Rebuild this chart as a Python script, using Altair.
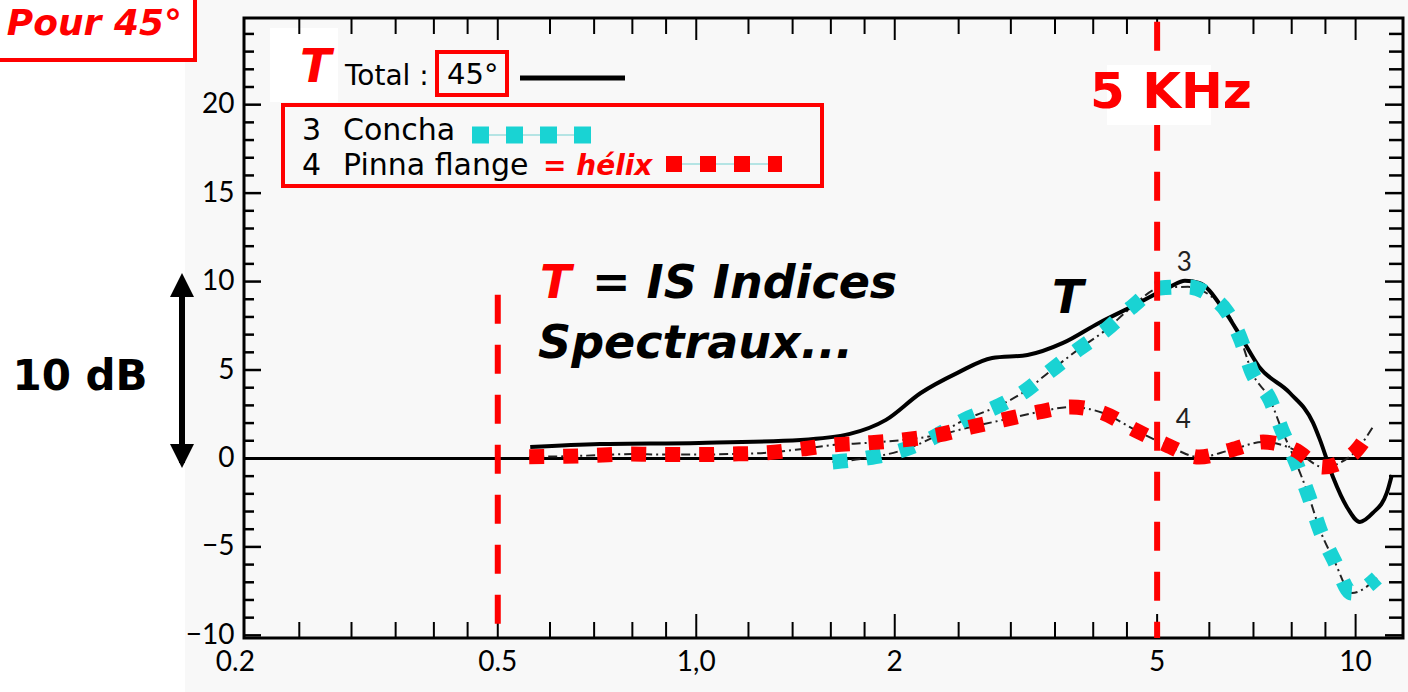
import altair as alt
import pandas as pd

# ---------------- data ----------------
# Total (T), 45 degrees
t_freq = [0.56, 0.714, 1.01, 1.44, 1.71, 1.94, 2.19, 2.49, 2.81, 3.18, 3.60, 4.08, 4.63,
          5.23, 5.51, 5.79, 6.31, 6.70, 7.14, 7.95, 8.62, 8.83, 9.24, 9.70, 10.15, 10.62,
          11.15, 11.35]
t_db = [0.65, 0.82, 0.88, 1.05, 1.39, 2.18, 3.70, 4.84, 5.68, 5.85, 6.53, 7.66, 8.68,
        9.70, 10.04, 9.93, 8.40, 6.87, 5.18, 3.70, 2.01, 1.05, -1.05, -2.74, -3.59, -3.08,
        -1.95, -0.93]

# 3 Concha
concha_freq = [1.61, 1.82, 2.06, 2.28, 2.55, 2.85, 3.14, 3.43, 3.79, 4.18, 4.56, 5.05,
               5.57, 6.08, 6.38, 6.70, 6.96, 7.42, 7.73, 8.09, 8.50, 8.83, 9.27, 9.87, 10.77]
concha_db = [-0.20, 0.03, 0.48, 1.16, 2.18, 2.91, 3.76, 4.89, 6.14, 7.27, 8.51, 9.64,
             9.70, 9.08, 8.29, 6.70, 4.89, 3.31, 1.61, -0.08, -2.18, -4.04, -5.74, -7.61, -6.76]

# 4 Pinna flange (helix)
pinna_freq = [0.558, 0.632, 0.705, 0.799, 0.890, 1.01, 1.13, 1.28, 1.45, 1.61, 1.82, 2.06,
              2.33, 2.61, 2.92, 3.31, 3.70, 4.14, 4.63, 5.17, 5.79, 6.47, 7.24, 8.09, 8.92,
              9.87, 10.62]
pinna_db = [0.10, 0.12, 0.18, 0.25, 0.22, 0.22, 0.25, 0.32, 0.54, 0.76, 0.88, 1.05,
            1.33, 1.78, 2.18, 2.63, 2.91, 2.57, 1.61, 0.76, 0.08, 0.48, 0.93, 0.48, -0.48,
            0.20, 1.78]

# axes
x_label_values = [0.2, 0.5, 1, 2, 5, 10]
x_label_texts = ["0.2", "0.5", "1,0", "2", "5", "10"]
y_label_values = [-10, -5, 0, 5, 10, 15, 20]
x_minor_ticks = [0.25, 0.3, 0.35, 0.4, 0.45, 0.6, 0.7, 0.8, 0.9, 1.2, 1.4, 1.6, 1.8,
                 2.5, 3, 3.5, 4, 4.5, 6, 7, 8, 9]
x_major_ticks = [0.5, 1, 2, 5, 10]
y_minor_ticks = [-9, -8, -7, -6, -4, -3, -2, -1, 1, 2, 3, 4, 6, 7, 8, 9, 11, 12, 13, 14,
                 16, 17, 18, 19, 21, 22, 23, 24]
y_major_ticks = [-10, -5, 0, 5, 10, 15, 20]

# reference (dashed red) lines
ref_freq = [0.5, 5]
ref_top = [9.25, 24.69]
ref_bottom = [-10.15, -10.15]

# small curve labels from the scan
curve_label_freq = [5.5, 5.48]
curve_label_db = [10.6, 1.7]
curve_label_text = ["3", "4"]

# ---------------- layout ----------------
W, H = 1159, 620
XS = alt.Scale(type="log", domain=[0.2061, 11.8])
YS = alt.Scale(domain=[-10.15, 24.9])
YAX = alt.Axis(values=y_label_values, ticks=False, domain=False, grid=False, title=None,
               labelFont="Lato", labelFontSize=28, labelColor="black", labelPadding=10,
               zindex=1)

RED = "#ff0000"
CYAN = "#19d3d3"
BOLDFONT = "DejaVu Sans"
SCANFONT = "Lato"
LEGFONT = "DejaVu Sans"

one = pd.DataFrame({"k": [0]})


def X(field):
    return alt.X(f"{field}:Q", scale=XS, axis=None)


def Y(field):
    return alt.Y(f"{field}:Q", scale=YS, axis=YAX)


def text(t, x, y, size, color="black", font=SCANFONT, weight="normal", style="normal",
         align="left", baseline="alphabetic"):
    return alt.Chart(one).mark_text(
        text=t, font=font, fontSize=size, fontWeight=weight, fontStyle=style,
        color=color, align=align, baseline=baseline
    ).encode(x=alt.value(x), y=alt.value(y))


def box(x1, x2, y1, y2, stroke=None, fill=None, sw=4):
    kw = {}
    if fill is not None:
        kw["fill"] = fill
    else:
        kw["fillOpacity"] = 0
    if stroke is not None:
        kw["stroke"] = stroke
        kw["strokeWidth"] = sw
    return alt.Chart(one).mark_rect(**kw).encode(
        x=alt.value(x1), x2=alt.value(x2), y=alt.value(y1), y2=alt.value(y2))


df_t = pd.DataFrame({"f": t_freq, "v": t_db})
df_c = pd.DataFrame({"f": concha_freq, "v": concha_db})
df_p = pd.DataFrame({"f": pinna_freq, "v": pinna_db})
df_xl = pd.DataFrame({"f": x_label_values, "t": x_label_texts})
df_xmin = pd.DataFrame({"f": x_minor_ticks})
df_xmaj = pd.DataFrame({"f": x_major_ticks})
df_ymin = pd.DataFrame({"v": y_minor_ticks})
df_ymaj = pd.DataFrame({"v": y_major_ticks})
df_ref = pd.DataFrame({"f": ref_freq, "top": ref_top, "bot": ref_bottom})
df_cl = pd.DataFrame({"f": curve_label_freq, "v": curve_label_db, "t": curve_label_text})

layers = []

# scanned paper background + white patch
layers.append(box(-59, 1164, -18, 674, fill="#f8f8f8"))
layers.append(box(26, 94, 10, 84, fill="white"))

# zero line
layers.append(alt.Chart(pd.DataFrame({"v": [0]})).mark_rule(color="black", strokeWidth=3)
              .encode(y=Y("v")))

# inward ticks (bottom / top / left / right)
layers.append(alt.Chart(df_xmin).mark_rule(color="black", strokeWidth=2)
              .encode(x=X("f"), y=alt.value(H), y2=alt.value(H - 16)))
layers.append(alt.Chart(df_xmaj).mark_rule(color="black", strokeWidth=2)
              .encode(x=X("f"), y=alt.value(H), y2=alt.value(H - 24)))
layers.append(alt.Chart(df_xmin).mark_rule(color="black", strokeWidth=2)
              .encode(x=X("f"), y=alt.value(0), y2=alt.value(16)))
layers.append(alt.Chart(df_xmaj).mark_rule(color="black", strokeWidth=2)
              .encode(x=X("f"), y=alt.value(0), y2=alt.value(22)))
layers.append(alt.Chart(df_ymin).mark_rule(color="black", strokeWidth=2.5)
              .encode(y=Y("v"), x=alt.value(0), x2=alt.value(10)))
layers.append(alt.Chart(df_ymaj).mark_rule(color="black", strokeWidth=2.5)
              .encode(y=Y("v"), x=alt.value(0), x2=alt.value(17)))
layers.append(alt.Chart(df_ymin).mark_rule(color="black", strokeWidth=2.5)
              .encode(y=Y("v"), x=alt.value(W), x2=alt.value(W - 14)))
layers.append(alt.Chart(df_ymaj).mark_rule(color="black", strokeWidth=2.5)
              .encode(y=Y("v"), x=alt.value(W), x2=alt.value(W - 18)))

# frame
layers.append(box(0, W, 0, H, stroke="black", sw=3))

# x labels
layers.append(alt.Chart(df_xl).mark_text(font=SCANFONT, fontSize=28, color="black",
                                         baseline="middle")
              .encode(x=X("f"), y=alt.value(H + 25), text="t:N"))

# original dash-dot curves of the scan
for d in (df_c, df_p):
    layers.append(alt.Chart(d).mark_line(color="#222222", strokeWidth=2,
                                         strokeDash=[9, 4, 2, 4], interpolate="monotone")
                  .encode(x=X("f"), y=Y("v")))

# curves
layers.append(alt.Chart(df_t).mark_line(color="black", strokeWidth=4, interpolate="monotone")
              .encode(x=X("f"), y=Y("v")))
layers.append(alt.Chart(df_c).mark_line(color=CYAN, strokeWidth=15, strokeDash=[15, 19],
                                        strokeCap="butt", interpolate="monotone")
              .encode(x=X("f"), y=Y("v")))
layers.append(alt.Chart(df_p).mark_line(color=RED, strokeWidth=15, strokeDash=[15, 19],
                                        strokeCap="butt", interpolate="monotone")
              .encode(x=X("f"), y=Y("v")))

# small "3" / "4" labels of the scan
layers.append(alt.Chart(df_cl).mark_text(font=SCANFONT, fontSize=26, color="#222222",
                                         baseline="alphabetic")
              .encode(x=X("f"), y=Y("v"), text="t:N"))

# dashed red reference lines
layers.append(alt.Chart(df_ref).mark_rule(color=RED, strokeWidth=6, strokeDash=[29, 21])
              .encode(x=X("f"), y=Y("top"), y2=alt.Y2("bot")))

# 5 KHz label
layers.append(box(863, 967, 47, 107, fill="white"))
layers.append(text("5 KHz", 927, 90, 50, color=RED, font=BOLDFONT, weight="bold",
                   align="center"))

# annotations
layers.append(text("T", 296, 280, 46, color=RED, font=BOLDFONT, weight="bold", style="italic"))
layers.append(text("= IS Indices", 348, 280, 46, font=BOLDFONT, weight="bold", style="italic"))
layers.append(text("Spectraux...", 294, 340, 46, font=BOLDFONT, weight="bold", style="italic"))
layers.append(text("T", 808, 295, 46, font=BOLDFONT, weight="bold", style="italic"))

# legend
layers.append(text("T", 56, 64, 46, color=RED, font=BOLDFONT, weight="bold", style="italic"))
layers.append(text("Total :", 101, 67, 28, font=LEGFONT))
layers.append(box(193, 263, 34, 77, stroke=RED))
layers.append(text("45°", 203, 66, 29, font=LEGFONT))
layers.append(alt.Chart(one).mark_rule(color="black", strokeWidth=5)
              .encode(x=alt.value(276), x2=alt.value(381), y=alt.value(60)))
layers.append(box(39, 578, 87, 168, stroke=RED))
layers.append(text("3", 58, 122, 30, font=LEGFONT))
layers.append(text("Concha", 99, 122, 30, font=LEGFONT))
layers.append(alt.Chart(one).mark_rule(color="#9fdede", strokeWidth=1.5)
              .encode(x=alt.value(228), x2=alt.value(347), y=alt.value(117)))
layers.append(alt.Chart(one).mark_rule(color=CYAN, strokeWidth=17, strokeDash=[17, 17],
                                       strokeCap="butt")
              .encode(x=alt.value(228), x2=alt.value(347), y=alt.value(117)))
layers.append(text("4", 58, 157, 30, font=LEGFONT))
layers.append(text("Pinna flange", 99, 157, 30, font=LEGFONT))
layers.append(text("= hélix", 299, 157, 28, color=RED, font=BOLDFONT, weight="bold",
                   style="italic"))
layers.append(alt.Chart(one).mark_rule(color="#9fdede", strokeWidth=1.5)
              .encode(x=alt.value(422), x2=alt.value(538), y=alt.value(146)))
layers.append(alt.Chart(one).mark_rule(color=RED, strokeWidth=16, strokeDash=[16, 18],
                                       strokeCap="butt")
              .encode(x=alt.value(422), x2=alt.value(538), y=alt.value(146)))

# 10 dB arrow
layers.append(alt.Chart(one).mark_rule(color="black", strokeWidth=6)
              .encode(x=alt.value(-62), y=alt.value(262), y2=alt.value(445)))
layers.append(alt.Chart(one).mark_point(shape="M0,-1L1,1L-1,1Z", size=576, filled=True,
                                        color="black", opacity=1)
              .encode(x=alt.value(-62), y=alt.value(267)))
layers.append(alt.Chart(one).mark_point(shape="M-1,-1L1,-1L0,1Z", size=576, filled=True,
                                        color="black", opacity=1)
              .encode(x=alt.value(-62), y=alt.value(438)))
layers.append(text("10 dB", -164, 372, 42, font=BOLDFONT, weight="bold", align="center"))

# title box at top-left (its border runs off the picture, as in the reference)
layers.append(box(-270, -49, -40, 42, stroke=RED, fill="white"))
layers.append(text("Pour 45°", -62, 17, 36, color=RED, font=BOLDFONT, weight="bold",
                   style="italic", align="right"))

chart = alt.layer(*layers).properties(
    width=W, height=H,
    padding={"left": 244, "top": 18, "right": 5, "bottom": 54},
    autosize=alt.AutoSizeParams(type="none"),
    background="white",
).configure_view(strokeWidth=0)

chart.save("out.html", embed_options={"renderer": "svg", "actions": False})
